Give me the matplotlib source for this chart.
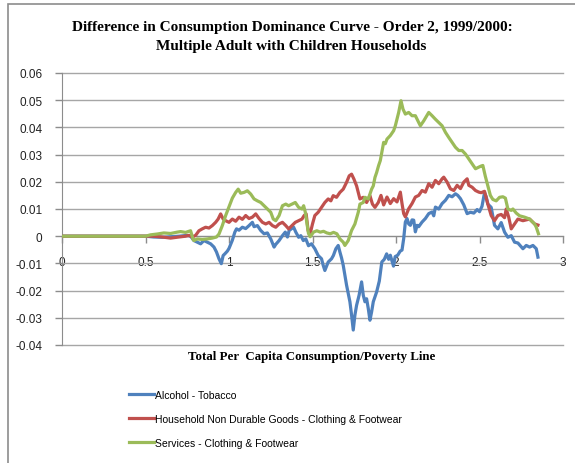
import matplotlib.pyplot as plt
from matplotlib.patches import Rectangle

# ----------------------------------------------------------------------
# Data
# ----------------------------------------------------------------------
x_alcohol = [
    0.0, 0.5, 0.55, 0.6, 0.65, 0.7, 0.75, 0.77, 0.79, 0.81, 0.83, 0.85,
    0.87, 0.89, 0.91, 0.925, 0.94, 0.954, 0.965, 0.975, 0.99, 1.0, 1.02,
    1.035, 1.045, 1.06, 1.08, 1.1, 1.12, 1.14, 1.15, 1.17, 1.19, 1.21,
    1.23, 1.25, 1.27, 1.28, 1.3, 1.32, 1.337, 1.35, 1.36, 1.387, 1.4,
    1.417, 1.43, 1.445, 1.46, 1.476, 1.494, 1.514, 1.534, 1.554, 1.564,
    1.574, 1.594, 1.614, 1.625, 1.64, 1.654, 1.664, 1.674, 1.684, 1.704,
    1.724, 1.734, 1.744, 1.754, 1.764, 1.779, 1.794, 1.804, 1.814, 1.824,
    1.834, 1.844, 1.854, 1.864, 1.884, 1.9, 1.915, 1.93, 1.944, 1.956,
    1.966, 1.985, 1.995, 2.01, 2.025, 2.036, 2.046, 2.056, 2.066, 2.076,
    2.086, 2.096, 2.106, 2.116, 2.126, 2.136, 2.156, 2.176, 2.196, 2.216,
    2.226, 2.236, 2.256, 2.276, 2.296, 2.316, 2.336, 2.356, 2.37, 2.386,
    2.406, 2.426, 2.446, 2.466, 2.486, 2.5, 2.515, 2.53, 2.54, 2.55, 2.57,
    2.59, 2.61, 2.63, 2.65, 2.67, 2.69, 2.71, 2.73, 2.76, 2.78, 2.8, 2.82,
    2.84, 2.85,
]
y_alcohol = [
    0.0, 0.0, -0.0003, -0.0004, -0.0002, 0.0, 0.0003, 0.0, -0.0016,
    -0.0022, -0.0028, -0.0016, -0.0022, -0.0028, -0.004, -0.0058, -0.0083,
    -0.0101, -0.0071, -0.0065, -0.0055, -0.0045, -0.0015, 0.0015, 0.0027,
    0.0022, 0.0033, 0.0028, 0.0039, 0.0051, 0.0035, 0.0039, 0.0021, 0.0009,
    0.0012, -0.001, -0.004, -0.003, -0.0016, 0.0002, 0.0015, -0.0003,
    0.0021, 0.0033, 0.0015, -0.0004, 0.0002, -0.0016, -0.001, -0.0035,
    -0.0028, -0.0046, -0.0071, -0.0083, -0.0107, -0.0126, -0.0095, -0.0083,
    -0.0071, -0.0046, -0.0034, -0.0058, -0.008, -0.0107, -0.018, -0.0241,
    -0.029, -0.0345, -0.029, -0.0254, -0.0217, -0.0168, -0.0217, -0.0241,
    -0.023, -0.0266, -0.0309, -0.0278, -0.0241, -0.0205, -0.0165, -0.0095,
    -0.0085, -0.0065, -0.0085, -0.007, -0.011, -0.0075, -0.007, -0.0055,
    -0.0051, -0.0009, 0.0052, 0.0065, 0.0045, 0.004, 0.006, 0.0059, 0.0016,
    0.004, 0.0035, 0.0052, 0.0065, 0.0083, 0.0089, 0.0075, 0.0107, 0.01,
    0.012, 0.0132, 0.015, 0.0145, 0.0156, 0.015, 0.0138, 0.0115, 0.0083,
    0.0088, 0.0085, 0.0098, 0.009, 0.011, 0.016, 0.0145, 0.0118, 0.0106,
    0.004, 0.0027, 0.005, 0.0015, -0.0004, 0.0002, -0.0022, -0.0025,
    -0.0046, -0.0034, -0.004, -0.0034, -0.0046, -0.0077,
]

x_household = [
    0.0, 0.5, 0.55, 0.6, 0.65, 0.7, 0.74, 0.76, 0.78, 0.8, 0.82, 0.84,
    0.86, 0.88, 0.9, 0.92, 0.935, 0.95, 0.965, 0.98, 1.0, 1.02, 1.04, 1.06,
    1.08, 1.1, 1.12, 1.14, 1.16, 1.18, 1.2, 1.22, 1.24, 1.26, 1.28, 1.3,
    1.32, 1.34, 1.357, 1.377, 1.397, 1.417, 1.437, 1.45, 1.462, 1.474,
    1.486, 1.5, 1.514, 1.534, 1.554, 1.574, 1.594, 1.61, 1.624, 1.644,
    1.664, 1.684, 1.704, 1.72, 1.734, 1.748, 1.764, 1.774, 1.784, 1.804,
    1.824, 1.844, 1.859, 1.874, 1.894, 1.91, 1.926, 1.946, 1.966, 1.986,
    2.006, 2.026, 2.036, 2.046, 2.056, 2.076, 2.096, 2.116, 2.136, 2.156,
    2.176, 2.196, 2.216, 2.236, 2.256, 2.276, 2.286, 2.306, 2.326, 2.346,
    2.366, 2.386, 2.406, 2.416, 2.426, 2.436, 2.456, 2.476, 2.496, 2.51,
    2.53, 2.55, 2.57, 2.59, 2.61, 2.63, 2.65, 2.66, 2.675, 2.69, 2.71,
    2.73, 2.76, 2.8, 2.83, 2.85,
]
y_household = [
    0.0, 0.0, 0.0, -0.0003, -0.0007, -0.0003, 0.0, 0.0003, -0.0003, 0.0003,
    0.002, 0.0027, 0.0033, 0.003, 0.0039, 0.0051, 0.0063, 0.0082, 0.0063,
    0.0057, 0.0051, 0.0063, 0.0055, 0.007, 0.0062, 0.0076, 0.0065, 0.007,
    0.0082, 0.0065, 0.0051, 0.0045, 0.0051, 0.0039, 0.0033, 0.0045, 0.0051,
    0.0039, 0.0027, 0.0039, 0.0051, 0.0057, 0.0063, 0.0076, 0.0082, 0.002,
    0.0009, 0.0045, 0.0076, 0.0088, 0.0106, 0.0124, 0.0137, 0.013, 0.0149,
    0.0143, 0.0161, 0.0173, 0.0198, 0.0222, 0.0228, 0.021, 0.0185, 0.0161,
    0.0137, 0.0143, 0.0124, 0.0149, 0.0118, 0.0106, 0.0124, 0.015, 0.0115,
    0.0144, 0.012, 0.0138, 0.0126, 0.0162, 0.012, 0.0083, 0.0071, 0.0101,
    0.012, 0.0144, 0.015, 0.0168, 0.0162, 0.0193, 0.018, 0.0205, 0.0193,
    0.0211, 0.0217, 0.0199, 0.0174, 0.0168, 0.0187, 0.0175, 0.0199, 0.0205,
    0.0211, 0.0187, 0.018, 0.0168, 0.0162, 0.016, 0.0165, 0.0118, 0.0076,
    0.0057, 0.0076, 0.008, 0.0068, 0.01, 0.007, 0.0027, 0.0045, 0.0063,
    0.0057, 0.0063, 0.0045, 0.0041,
]

x_services = [
    0.0, 0.5, 0.53, 0.57, 0.61, 0.65, 0.69, 0.71, 0.74, 0.77, 0.785, 0.79,
    0.81, 0.84, 0.87, 0.9, 0.925, 0.94, 0.96, 0.98, 1.0, 1.02, 1.04, 1.055,
    1.07, 1.09, 1.11, 1.13, 1.15, 1.17, 1.19, 1.21, 1.23, 1.25, 1.265, 1.28,
    1.3, 1.32, 1.34, 1.357, 1.377, 1.397, 1.417, 1.437, 1.447, 1.457, 1.466,
    1.476, 1.486, 1.506, 1.526, 1.546, 1.566, 1.586, 1.606, 1.626, 1.646,
    1.664, 1.684, 1.694, 1.714, 1.734, 1.754, 1.774, 1.784, 1.804, 1.814,
    1.834, 1.854, 1.864, 1.874, 1.884, 1.896, 1.906, 1.926, 1.936, 1.946,
    1.966, 1.986, 1.996, 2.016, 2.03, 2.042, 2.056, 2.076, 2.096, 2.116,
    2.136, 2.146, 2.166, 2.196, 2.216, 2.236, 2.256, 2.276, 2.296, 2.316,
    2.336, 2.356, 2.376, 2.396, 2.416, 2.436, 2.456, 2.476, 2.496, 2.51,
    2.52, 2.535, 2.55, 2.565, 2.58, 2.6, 2.62, 2.64, 2.655, 2.67, 2.69, 2.7,
    2.72, 2.74, 2.77, 2.8, 2.83, 2.84, 2.853,
]
y_services = [
    0.0, 0.0, 0.0005, 0.0008, 0.0012, 0.001, 0.0015, 0.0017, 0.0014, 0.002,
    -0.0012, -0.0016, -0.001, -0.0012, -0.001, -0.0007, -0.0003, 0.0008,
    0.0039, 0.0076, 0.0108, 0.014, 0.0161, 0.0173, 0.0158, 0.0161, 0.0167,
    0.0155, 0.0137, 0.013, 0.0124, 0.0112, 0.01, 0.0088, 0.0063, 0.0057,
    0.0076, 0.0112, 0.0118, 0.0112, 0.0118, 0.0124, 0.0106, 0.01, 0.0112,
    0.0088, 0.005, 0.001, -0.0002, 0.0015, 0.002, 0.0015, 0.0018, 0.0012,
    0.0009, 0.0014, 0.0009, -0.001, -0.0022, -0.0034, -0.0016, 0.0021,
    0.0045, 0.0088, 0.0118, 0.0124, 0.0143, 0.0137, 0.0173, 0.0185, 0.0216,
    0.0234, 0.026, 0.0278, 0.0345, 0.034, 0.0357, 0.037, 0.0388, 0.0406,
    0.0455, 0.0498, 0.0467, 0.0449, 0.0455, 0.0443, 0.0443, 0.0418, 0.0406,
    0.0424, 0.0455, 0.0443, 0.043, 0.0418, 0.0406, 0.0382, 0.0363, 0.0345,
    0.0327, 0.0315, 0.0315, 0.0302, 0.0284, 0.0266, 0.0248, 0.0254, 0.0258,
    0.026, 0.022, 0.0185, 0.015, 0.0135, 0.013, 0.0143, 0.0145, 0.014,
    0.01, 0.0095, 0.01, 0.0085, 0.0075, 0.007, 0.0063, 0.0045, 0.0033,
    0.0009,
]

series_labels = [
    "Alcohol - Tobacco",
    "Household Non Durable Goods - Clothing & Footwear",
    "Services - Clothing & Footwear",
]
x_ticks = [0, 0.5, 1, 1.5, 2, 2.5, 3]
x_tick_labels = ["0", "0.5", "1", "1.5", "2", "2.5", "3"]
y_ticks = [-0.04, -0.03, -0.02, -0.01, 0, 0.01, 0.02, 0.03, 0.04, 0.05, 0.06]
y_tick_labels = ["-0.04", "-0.03", "-0.02", "-0.01", "0", "0.01", "0.02",
                 "0.03", "0.04", "0.05", "0.06"]


def main():
    W, H = 575, 464
    fig = plt.figure(figsize=(W / 100, H / 100), dpi=100)
    fig.patch.set_facecolor("white")

    # outer chart border (only left/top edges fall inside the picture)
    fig.patches.append(Rectangle((8 / W, -0.1), 1.5, (H - 5) / H + 0.1,
                                 transform=fig.transFigure, fill=False,
                                 edgecolor="#8c8c8c", linewidth=1.2))

    ax = fig.add_axes([62 / W, 118 / H, 501 / W, 272 / H])

    colors = ["#4F81BD", "#C0504D", "#9BBB59"]
    data = [(x_alcohol, y_alcohol), (x_household, y_household),
            (x_services, y_services)]
    handles = []
    for (xs, ys), c, lab in zip(data, colors, series_labels):
        ln, = ax.plot(xs, ys, color=c, linewidth=2.3, label=lab,
                      solid_joinstyle="round", zorder=3)
        handles.append(ln)

    ax.set_xlim(0, 3)
    ax.set_ylim(-0.04, 0.06)
    ax.set_yticks(y_ticks)
    ax.set_yticklabels(y_tick_labels)
    ax.set_xticks(x_ticks)
    ax.set_xticklabels(x_tick_labels)

    for s in ["top", "right"]:
        ax.spines[s].set_visible(False)
    ax.spines["bottom"].set_position(("data", 0))
    ax.spines["bottom"].set_color("#8c8c8c")
    ax.spines["left"].set_color("#8c8c8c")
    ax.grid(axis="y", color="#a6a6a6", linewidth=1.0)
    for gl in ax.get_ygridlines():
        gl.set_clip_on(False)
    ax.set_axisbelow(True)

    ax.tick_params(axis="y", direction="out", length=5, width=1,
                   color="#8c8c8c", pad=9, labelsize=8.5,
                   labelcolor="#222222")
    ax.tick_params(axis="x", direction="out", length=5, width=1,
                   color="#8c8c8c", pad=9, labelsize=8.5,
                   labelcolor="#222222")
    for lab in ax.get_xticklabels() + ax.get_yticklabels():
        lab.set_fontfamily("Liberation Sans")

    fig.text(292 / W, 1 - 27 / H,
             "Difference in Consumption Dominance Curve - Order 2, 1999/2000:",
             ha="center", va="center", fontsize=11, fontweight="bold",
             family="Liberation Serif")
    fig.text(291 / W, 1 - 47 / H,
             "Multiple Adult with Children Households",
             ha="center", va="center", fontsize=11, fontweight="bold",
             family="Liberation Serif")
    fig.text(312 / W, 1 - 357 / H,
             "Total Per  Capita Consumption/Poverty Line",
             ha="center", va="center", fontsize=9.3, fontweight="bold",
             family="Liberation Serif")

    fig.legend(handles=handles, loc="upper left",
               bbox_to_anchor=(129 / W, 1 - 391 / H), frameon=False,
               prop={"family": "Liberation Sans", "size": 7.5},
               handlelength=2.4, handletextpad=0.1, labelspacing=1.33,
               borderaxespad=0, borderpad=0)

    fig.savefig("out.png", dpi=100)
    plt.close(fig)


if __name__ == "__main__":
    main()
